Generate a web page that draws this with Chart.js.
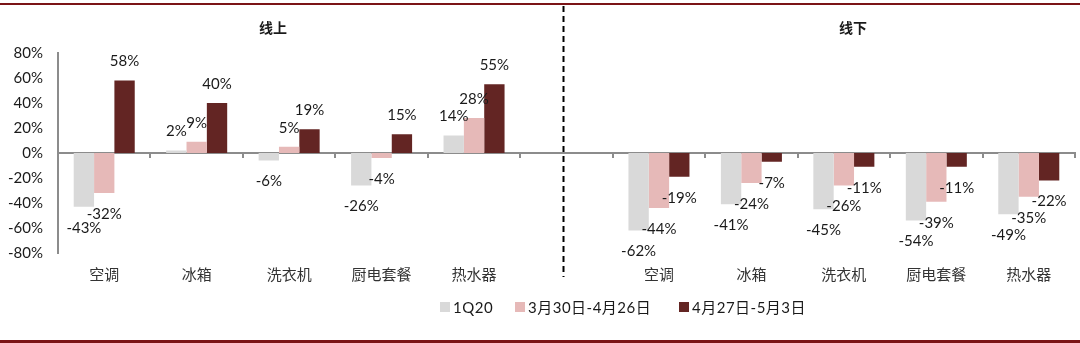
<!DOCTYPE html>
<html>
<head>
<meta charset="utf-8">
<script src="https://cdn.jsdelivr.net/npm/chart.js@4.4.1/dist/chart.umd.min.js"></script>
<style>
  html, body { margin: 0; padding: 0; background: #fff; }
  #wrap { width: 1080px; height: 343px; position: relative; }
</style>
</head>
<body>
<div id="wrap"><canvas id="chart" width="1080" height="343"></canvas></div>
<script>
// categories: 5 online, one empty gap slot, 5 offline
const categories = ['空调', '冰箱', '洗衣机', '厨电套餐', '热水器', '', '空调', '冰箱', '洗衣机', '厨电套餐', '热水器'];
const seriesNames = ['1Q20', '3月30日-4月26日', '4月27日-5月3日'];
const q1 = [-43, 2, -6, -26, 14, null, -62, -41, -45, -54, -49];
const midPeriod = [-32, 9, 5, -4, 28, null, -44, -24, -26, -39, -35];
const lastWeek = [58, 40, 19, 15, 55, null, -19, -7, -11, -11, -22];
const yTicks = [-80, -60, -40, -20, 0, 20, 40, 60, 80];
const panelTitles = ['线上', '线下'];

const colors = ['#D9D9D9', '#E6B9B8', '#632523'];
const FONT = "Lato, 'Noto Sans CJK SC', sans-serif";
const CJK = "'Noto Sans CJK SC', sans-serif";

Chart.defaults.font.family = FONT;
Chart.defaults.color = '#1a1a1a';

// labels on the bar ends, plus titles, divider, legend and the red rules
const extras = {
  id: 'extras',
  afterDatasetsDraw(chart) {
    const ctx = chart.ctx;
    ctx.save();
    ctx.font = '15px ' + FONT;
    ctx.fillStyle = '#1a1a1a';
    ctx.textAlign = 'center';
    ctx.textBaseline = 'middle';
    chart.data.datasets.forEach((ds, i) => {
      chart.getDatasetMeta(i).data.forEach((bar, j) => {
        const v = ds.data[j];
        if (v === null) return;
        const y = v >= 0 ? bar.y - 19 : bar.y + 21;
        ctx.fillText(v + '%', bar.x, y);
      });
    });

    // panel titles
    ctx.font = 'bold 14px ' + CJK;
    ctx.fillText(panelTitles[0], 273, 28);
    ctx.fillText(panelTitles[1], 853, 28);

    // dashed divider in the empty slot
    const x = chart.scales.x;
    const dx = Math.round(x.getPixelForValue(5)) - 3.5;
    ctx.strokeStyle = '#000';
    ctx.lineWidth = 2;
    ctx.setLineDash([6, 4]);
    ctx.beginPath();
    ctx.moveTo(dx, 6);
    ctx.lineTo(dx, 277);
    ctx.stroke();
    ctx.setLineDash([]);

    // legend
    const legendX = [440, 515, 679];
    const ly = 307;
    ctx.textAlign = 'left';
    ctx.font = '15px ' + FONT;
    ctx.letterSpacing = '0.5px';
    seriesNames.forEach((name, i) => {
      ctx.fillStyle = colors[i];
      ctx.fillRect(legendX[i], ly - 5, 10, 10);
      ctx.fillStyle = '#1a1a1a';
      ctx.fillText(name, legendX[i] + 13, ly + 1);
    });
    ctx.letterSpacing = '0px';

    // top and bottom rules
    ctx.fillStyle = '#7B1416';
    ctx.fillRect(0, 3, chart.width, 2);
    ctx.fillRect(0, 340, chart.width, 3);
    ctx.restore();
  }
};

const ctx = document.getElementById('chart').getContext('2d');
new Chart(ctx, {
  type: 'bar',
  data: {
    labels: categories,
    datasets: [
      { label: seriesNames[0], data: q1, backgroundColor: colors[0] },
      { label: seriesNames[1], data: midPeriod, backgroundColor: colors[1] },
      { label: seriesNames[2], data: lastWeek, backgroundColor: colors[2] }
    ]
  },
  options: {
    responsive: false,
    animation: false,
    events: [],
    barPercentage: 1,
    categoryPercentage: 0.66,
    layout: { padding: { top: 53, left: 0, right: 5, bottom: 50 } },
    plugins: { legend: { display: false }, tooltip: { enabled: false } },
    scales: {
      x: {
        position: 'bottom',
        offset: true,
        grid: { display: false, drawTicks: false },
        border: { display: false },
        ticks: { font: { family: CJK, size: 15 }, color: '#333', padding: 12, maxRotation: 0, autoSkip: false },
        afterFit(s) { s.height = 40; }
      },
      x0: {
        type: 'category',
        position: { y: 0 },
        offset: true,
        grid: { offset: true, drawOnChartArea: false, drawTicks: true, tickLength: 4, color: '#8c8c8c', lineWidth: 2 },
        border: { color: '#8c8c8c', width: 2 },
        ticks: { display: false }
      },
      y: {
        min: -80,
        max: 80,
        grid: { display: false, drawTicks: false },
        border: { color: '#8c8c8c', width: 2 },
        afterBuildTicks(s) { s.ticks = yTicks.map(v => ({ value: v })); },
        ticks: { callback: v => v + '%', font: { size: 15 }, color: '#1a1a1a', padding: 15 },
        afterFit(s) { s.width = 58; }
      }
    }
  },
  plugins: [extras]
});
</script>
</body>
</html>
